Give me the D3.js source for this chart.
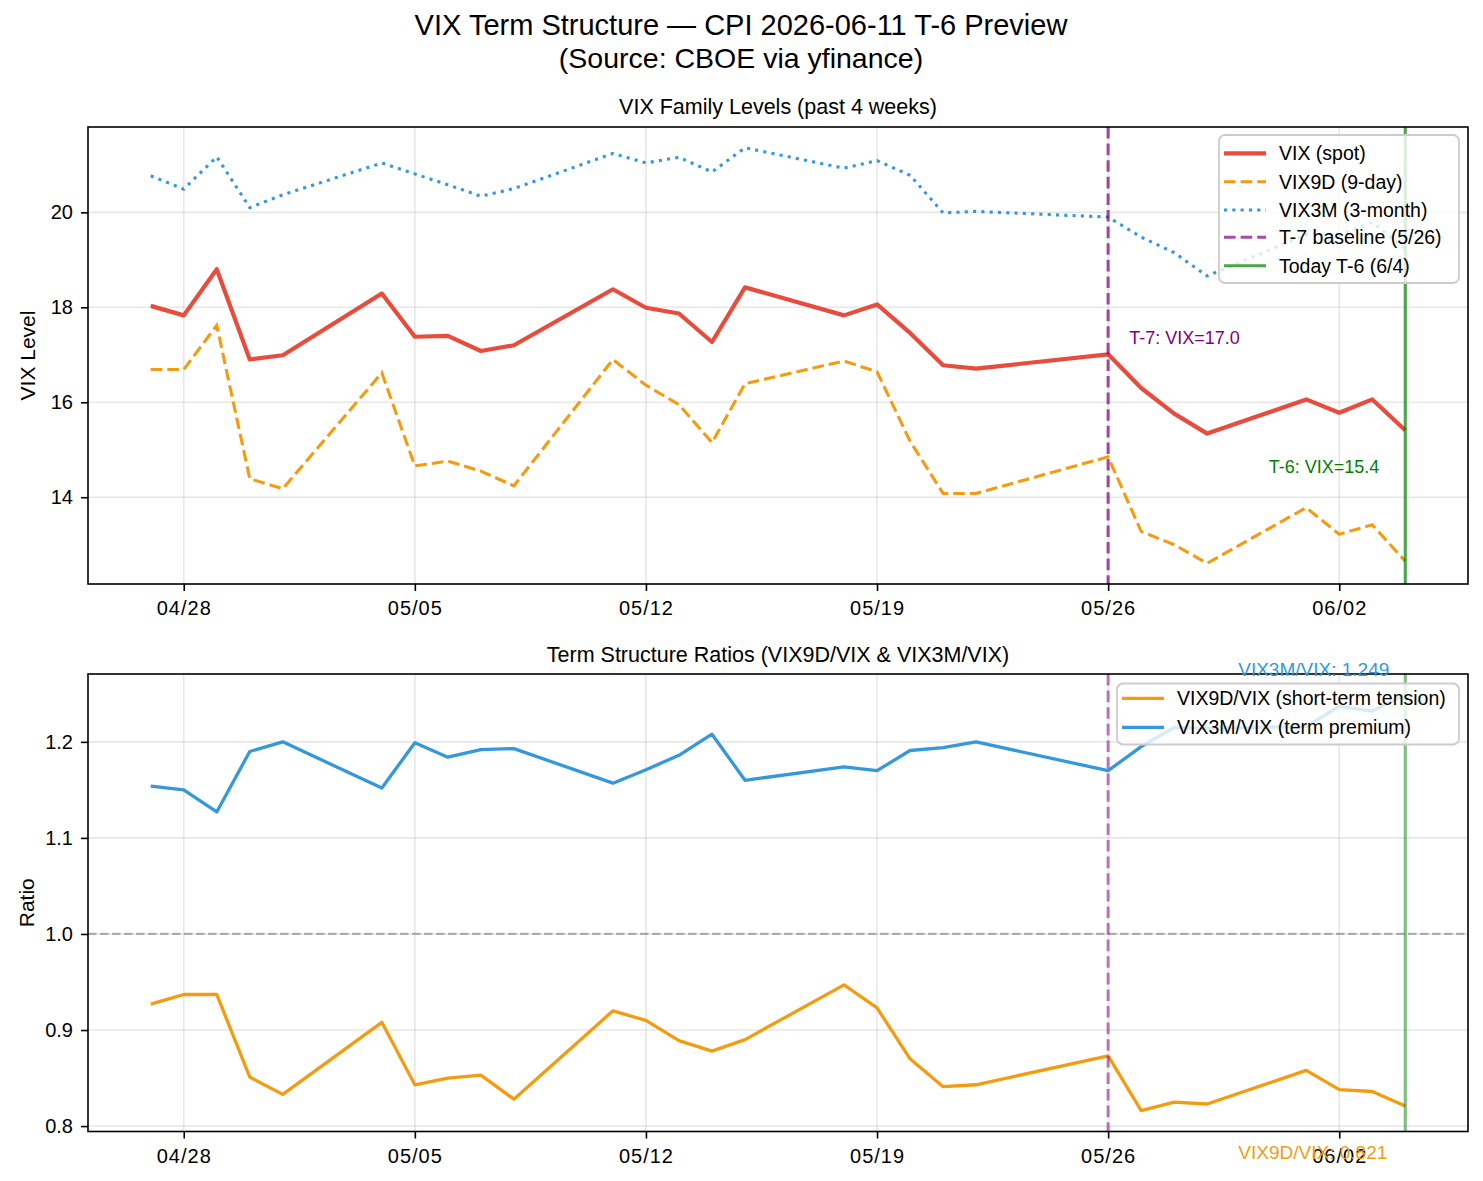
<!DOCTYPE html>
<html>
<head>
<meta charset="utf-8">
<script src="https://cdn.jsdelivr.net/npm/d3@7"></script>
<style>
  html, body { margin: 0; padding: 0; background: #fff; }
  svg text { font-family: "Liberation Sans", Arial, Helvetica, sans-serif; }
</style>
</head>
<body>
<svg id="chart" width="1483" height="1181"></svg>
<script>
// ---------------- DATA ----------------
const dates = ["2026-04-27","2026-04-28","2026-04-29","2026-04-30","2026-05-01",
  "2026-05-04","2026-05-05","2026-05-06","2026-05-07","2026-05-08",
  "2026-05-11","2026-05-12","2026-05-13","2026-05-14","2026-05-15",
  "2026-05-18","2026-05-19","2026-05-20","2026-05-21","2026-05-22",
  "2026-05-26","2026-05-27","2026-05-28","2026-05-29",
  "2026-06-01","2026-06-02","2026-06-03","2026-06-04"];
const vix   = [18.03,17.83,18.80,16.90,16.99,18.29,17.38,17.40,17.08,17.20,18.38,17.99,17.87,17.27,18.42,17.83,18.06,17.46,16.78,16.71,17.01,16.30,15.76,15.34,16.06,15.78,16.06,15.41];
const vix9d = [16.69,16.69,17.62,14.39,14.18,16.62,14.66,14.76,14.55,14.24,16.90,16.36,15.95,15.15,16.39,16.87,16.64,15.18,14.08,14.08,14.85,13.28,13.00,12.61,13.78,13.22,13.42,12.65];
const vix3m = [20.77,20.49,21.17,20.10,20.37,21.04,20.81,20.58,20.34,20.50,21.24,21.04,21.16,20.85,21.36,20.93,21.09,20.78,19.99,20.02,19.90,19.48,19.15,18.66,19.53,19.52,19.79,19.23];
const ratio9d = [0.927,0.937,0.937,0.851,0.833,0.908,0.843,0.850,0.853,0.828,0.920,0.910,0.889,0.878,0.890,0.947,0.923,0.870,0.841,0.843,0.873,0.816,0.825,0.823,0.858,0.838,0.836,0.821];
const ratio3m = [1.154,1.150,1.127,1.190,1.200,1.152,1.199,1.184,1.192,1.193,1.157,1.171,1.186,1.208,1.160,1.174,1.170,1.191,1.194,1.200,1.170,1.195,1.215,1.214,1.216,1.237,1.232,1.249];
const xTickLabels = ["2026-04-28","2026-05-05","2026-05-12","2026-05-19","2026-05-26","2026-06-02"];
const levelTicks = [14,16,18,20];
const ratioTicks = [0.8,0.9,1.0,1.1,1.2];
const baselineDate = "2026-05-26";
const todayDate = "2026-06-04";
const baselineVix = 17.0;
const todayVix = 15.4;
const lastRatio9d = 0.821;
const lastRatio3m = 1.249;

const titleLine1 = "VIX Term Structure — CPI 2026-06-11 T-6 Preview";
const titleLine2 = "(Source: CBOE via yfinance)";
const title1 = "VIX Family Levels (past 4 weeks)";
const title2 = "Term Structure Ratios (VIX9D/VIX & VIX3M/VIX)";

// ---------------- SETUP ----------------
const parse = d3.utcParse("%Y-%m-%d");
const D = dates.map(parse);
const svg = d3.select("#chart");
const C = { vix: "#e74c3c", v9: "#f39c12", v3: "#3498db", purple: "#800080", green: "#008000" };

const left = 88, right = 1468;
const top1 = 127, bot1 = 584;
const top2 = 674, bot2 = 1131.5;

const span = D[D.length-1] - D[0];
const x = d3.scaleUtc()
  .domain([new Date(+D[0] - 0.05*span), new Date(+D[D.length-1] + 0.05*span)])
  .range([left, right]);

function padDomain(arrs) {
  const all = arrs.flat();
  const mn = d3.min(all), mx = d3.max(all), r = mx - mn;
  return [mn - 0.05*r, mx + 0.05*r];
}
const y1 = d3.scaleLinear().domain(padDomain([vix, vix9d, vix3m])).range([bot1, top1]);
const y2 = d3.scaleLinear().domain(padDomain([ratio9d, ratio3m])).range([bot2, top2]);

const tickDates = xTickLabels.map(parse);
const fmt = d3.utcFormat("%m/%d");

function panel(y, top, bot, yTicks) {
  const g = svg.append("g");
  g.append("g").selectAll("line").data(tickDates).join("line")
    .attr("x1", d => x(d)).attr("x2", d => x(d)).attr("y1", top).attr("y2", bot)
    .attr("stroke", "#b0b0b0").attr("stroke-opacity", 0.3).attr("stroke-width", 1.6);
  g.append("g").selectAll("line").data(yTicks).join("line")
    .attr("x1", left).attr("x2", right).attr("y1", d => y(d)).attr("y2", d => y(d))
    .attr("stroke", "#b0b0b0").attr("stroke-opacity", 0.3).attr("stroke-width", 1.6);
  return g;
}

function axes(y, top, bot, yTicks, yFmt) {
  const ax = svg.append("g").attr("transform", `translate(0,${bot})`)
    .call(d3.axisBottom(x).tickValues(tickDates).tickFormat(fmt).tickSize(7).tickPadding(10));
  const ay = svg.append("g").attr("transform", `translate(${left},0)`)
    .call(d3.axisLeft(y).tickValues(yTicks).tickFormat(yFmt).tickSize(7).tickPadding(8));
  [ax, ay].forEach(a => {
    a.select(".domain").remove();
    a.selectAll(".tick line").attr("stroke", "#000").attr("stroke-width", 1.6);
    a.selectAll(".tick text").attr("fill", "#000").style("font-size", "20px")
      .style("font-family", "'Liberation Sans', Arial, sans-serif");
  });
  ax.selectAll(".tick text").style("letter-spacing", "1px");
  svg.append("rect").attr("x", left).attr("y", top).attr("width", right-left).attr("height", bot-top)
    .attr("fill", "none").attr("stroke", "#000").attr("stroke-width", 1.6);
}

// ---------------- TITLES ----------------
svg.append("text").attr("x", 741).attr("y", 35).attr("text-anchor", "middle")
  .style("font-size", "29px").attr("fill", "#000").text(titleLine1);
svg.append("text").attr("x", 741).attr("y", 68).attr("text-anchor", "middle")
  .style("font-size", "28.5px").attr("fill", "#000").text(titleLine2);

// ---------------- PANEL 1 ----------------
panel(y1, top1, bot1, levelTicks);
const line1 = arr => d3.line().x((d,i) => x(D[i])).y(d => y1(d))(arr);

const lines1 = svg.append("g");
lines1.append("path").attr("d", line1(vix)).attr("fill", "none").attr("stroke", C.vix)
  .attr("stroke-width", 4.2).attr("stroke-linejoin", "round");
lines1.append("path").attr("d", line1(vix9d)).attr("fill", "none").attr("stroke", C.v9)
  .attr("stroke-width", 3.1).attr("stroke-dasharray", "11.6,5");
lines1.append("path").attr("d", line1(vix3m)).attr("fill", "none").attr("stroke", C.v3)
  .attr("stroke-width", 3.1).attr("stroke-dasharray", "3.1,5.2");

const bx = x(parse(baselineDate)), tx = x(parse(todayDate));
svg.append("line").attr("x1", bx).attr("x2", bx).attr("y1", top1).attr("y2", bot1)
  .attr("stroke", C.purple).attr("stroke-opacity", 0.7).attr("stroke-width", 3.1).attr("stroke-dasharray", "11.6,5");
svg.append("line").attr("x1", tx).attr("x2", tx).attr("y1", top1).attr("y2", bot1)
  .attr("stroke", C.green).attr("stroke-opacity", 0.7).attr("stroke-width", 3.1);

svg.append("text").attr("x", bx + 21).attr("y", y1(baselineVix + 0.22))
  .style("font-size", "18px").attr("fill", C.purple).text(`T-7: VIX=${baselineVix.toFixed(1)}`);
svg.append("text").attr("x", tx - 26).attr("y", y1(todayVix - 0.88)).attr("text-anchor", "end")
  .style("font-size", "18px").attr("fill", C.green).text(`T-6: VIX=${todayVix.toFixed(1)}`);

axes(y1, top1, bot1, levelTicks, d => d3.format("d")(d));

svg.append("text").attr("x", 778).attr("y", 114).attr("text-anchor", "middle")
  .style("font-size", "21.5px").attr("fill", "#000").text(title1);
svg.append("text").attr("transform", `translate(35,${(top1+bot1)/2}) rotate(-90)`)
  .attr("text-anchor", "middle").style("font-size", "21px").attr("fill", "#000").text("VIX Level");

function legend(items, lx, ly, w, h, hx0, hx1, tx0, rowY) {
  const g = svg.append("g");
  g.append("rect").attr("x", lx).attr("y", ly).attr("width", w).attr("height", h)
    .attr("rx", 6).attr("fill", "#fff").attr("fill-opacity", 0.8)
    .attr("stroke", "#cccccc").attr("stroke-width", 1.8);
  items.forEach((it, i) => {
    const yy = rowY[i];
    g.append("line").attr("x1", hx0).attr("x2", hx1).attr("y1", yy).attr("y2", yy)
      .attr("stroke", it.color).attr("stroke-width", it.w)
      .attr("stroke-opacity", it.op || 1)
      .attr("stroke-dasharray", it.dash || null);
    g.append("text").attr("x", tx0).attr("y", yy + 7).style("font-size", "19.5px")
      .attr("fill", "#000").text(it.label);
  });
}
legend([
  { label: "VIX (spot)", color: C.vix, w: 4.2 },
  { label: "VIX9D (9-day)", color: C.v9, w: 3.1, dash: "11.6,5" },
  { label: "VIX3M (3-month)", color: C.v3, w: 3.1, dash: "3.1,5.2" },
  { label: "T-7 baseline (5/26)", color: C.purple, w: 3.1, dash: "11.6,5", op: 0.7 },
  { label: "Today T-6 (6/4)", color: C.green, w: 3.1, op: 0.7 }
], 1219, 135, 240, 148, 1224, 1266, 1279, [153.3, 181.7, 210, 237.3, 265.7]);

// ---------------- PANEL 2 ----------------
panel(y2, top2, bot2, ratioTicks);
const line2 = arr => d3.line().x((d,i) => x(D[i])).y(d => y2(d))(arr);
svg.append("line").attr("x1", left).attr("x2", right).attr("y1", y2(1.0)).attr("y2", y2(1.0))
  .attr("stroke", "#808080").attr("stroke-opacity", 0.6).attr("stroke-width", 2.3).attr("stroke-dasharray", "8.5,3.5");
svg.append("path").attr("d", line2(ratio9d)).attr("fill", "none").attr("stroke", C.v9)
  .attr("stroke-width", 3.3).attr("stroke-linejoin", "round");
svg.append("path").attr("d", line2(ratio3m)).attr("fill", "none").attr("stroke", C.v3)
  .attr("stroke-width", 3.3).attr("stroke-linejoin", "round");
svg.append("line").attr("x1", bx).attr("x2", bx).attr("y1", top2).attr("y2", bot2)
  .attr("stroke", C.purple).attr("stroke-opacity", 0.5).attr("stroke-width", 3.1).attr("stroke-dasharray", "11.6,5");
svg.append("line").attr("x1", tx).attr("x2", tx).attr("y1", top2).attr("y2", bot2)
  .attr("stroke", C.green).attr("stroke-opacity", 0.5).attr("stroke-width", 3.1);

axes(y2, top2, bot2, ratioTicks, d => d3.format(".1f")(d));

svg.append("text").attr("x", tx - 16).attr("y", y2(lastRatio3m + 0.02)).attr("text-anchor", "end")
  .style("font-size", "19px").attr("fill", C.v3).text(`VIX3M/VIX: ${lastRatio3m.toFixed(3)}`);
svg.append("text").attr("x", tx - 18).attr("y", y2(lastRatio9d - 0.03) + 24).attr("text-anchor", "end")
  .style("font-size", "19px").attr("fill", C.v9).text(`VIX9D/VIX: ${lastRatio9d.toFixed(3)}`);

svg.append("text").attr("x", 778).attr("y", 662).attr("text-anchor", "middle")
  .style("font-size", "21.5px").attr("fill", "#000").text(title2);
svg.append("text").attr("transform", `translate(33.5,${(top2+bot2)/2}) rotate(-90)`)
  .attr("text-anchor", "middle").style("font-size", "21px").attr("fill", "#000").text("Ratio");

legend([
  { label: "VIX9D/VIX (short-term tension)", color: C.v9, w: 3.3 },
  { label: "VIX3M/VIX (term premium)", color: C.v3, w: 3.3 }
], 1117, 683.5, 342, 61, 1122, 1164, 1177, [698.3, 727.3]);
</script>
</body>
</html>
